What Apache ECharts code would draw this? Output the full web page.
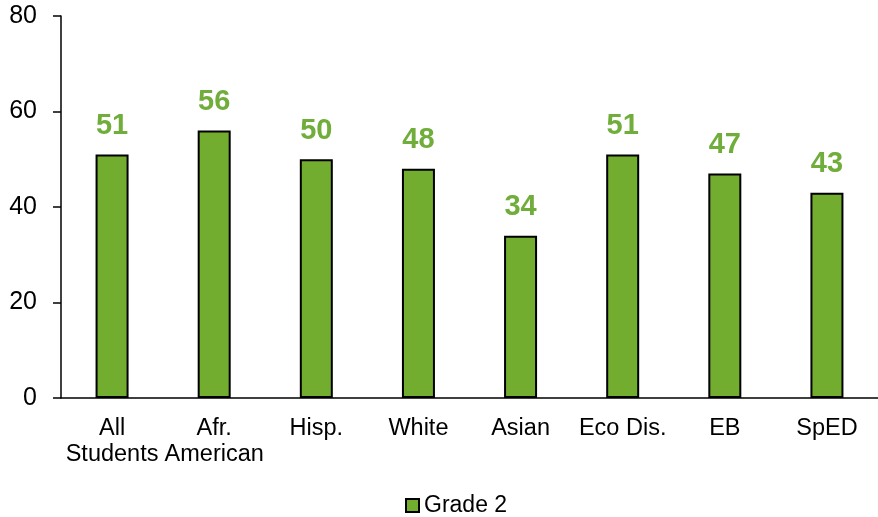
<!DOCTYPE html>
<html>
<head>
<meta charset="utf-8">
<script src="https://cdn.jsdelivr.net/npm/echarts@6/dist/echarts.min.js"></script>
<style>
html,body{margin:0;padding:0;background:#fff;}
#chart{width:878px;height:517px;}
</style>
</head>
<body>
<div id="chart"></div>
<script>
const categories = ["All\nStudents", "Afr.\nAmerican", "Hisp.", "White", "Asian", "Eco Dis.", "EB", "SpED"];
const grade2 = [51, 56, 50, 48, 34, 51, 47, 43];
const seriesName = "Grade 2";
const yTicks = [0, 20, 40, 60, 80];

const font = "'Liberation Sans', Arial, sans-serif";
const chart = echarts.init(document.getElementById('chart'), null, {renderer: 'canvas'});
chart.setOption({
  animation: false,
  backgroundColor: '#ffffff',
  grid: {left: 61, top: 16, width: 820, height: 382, containLabel: false},
  legend: {
    data: [seriesName],
    top: 489,
    left: 400,
    itemWidth: 13,
    itemHeight: 13,
    itemGap: 6,
    icon: 'rect',
    textStyle: {fontFamily: font, fontSize: 23, color: '#000'}
  },
  xAxis: {
    type: 'category',
    data: categories,
    axisLine: {lineStyle: {color: '#000', width: 1.5}},
    axisTick: {show: false},
    axisLabel: {fontFamily: font, fontSize: 23.5, color: '#000', lineHeight: 26, margin: 18, interval: 0}
  },
  yAxis: {
    type: 'value',
    min: yTicks[0],
    max: yTicks[yTicks.length - 1],
    interval: 20,
    splitLine: {show: false},
    axisLine: {show: true, lineStyle: {color: '#000', width: 1.5}},
    axisTick: {show: true, length: 8, lineStyle: {color: '#000', width: 1.5}},
    axisLabel: {fontFamily: font, fontSize: 25, color: '#000', margin: 24}
  },
  series: [{
    name: seriesName,
    type: 'bar',
    data: grade2,
    barWidth: 33,
    itemStyle: {color: '#72ad2f', borderColor: '#000', borderWidth: 2},
    label: {
      show: true,
      position: 'top',
      distance: 14,
      fontFamily: font,
      fontSize: 29,
      fontWeight: 'bold',
      color: '#70ad3a'
    }
  }]
});
</script>
</body>
</html>
